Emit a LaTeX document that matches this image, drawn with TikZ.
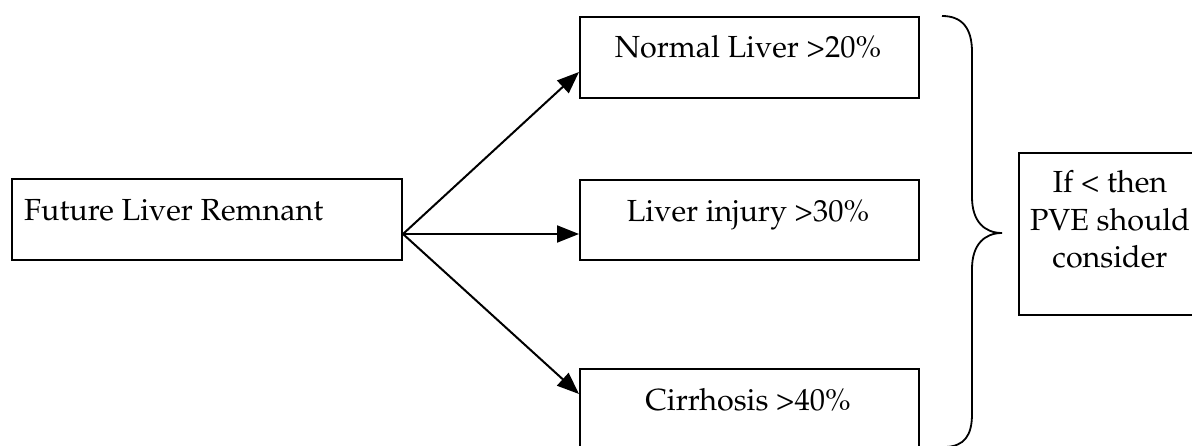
\documentclass[tikz,border=0pt]{standalone}
\usepackage[T1]{fontenc}
\usepackage{mathpazo}
\usetikzlibrary{arrows.meta}
\begin{document}
\begin{tikzpicture}[x=1pt,y=-1pt,
  box/.style={draw,line width=2pt,inner sep=0pt},
  lbl/.style={inner sep=0pt,font=\fontsize{30.5}{37.5}\selectfont},
  arr/.style={line width=2pt,-{Triangle[length=22pt,width=17pt]}}]
\useasboundingbox (0,0) rectangle (1192,446);
\clip (0,0) rectangle (1192,446);
% boxes
\node[box,minimum width=390pt,minimum height=81pt] (flr) at (207,219.5) {};
\node[box,minimum width=339pt,minimum height=81pt] (norm) at (749.5,57.5) {};
\node[box,minimum width=339pt,minimum height=80pt] (inj) at (749.5,220) {};
\node[box,minimum width=339pt,minimum height=100pt] (cir) at (749.5,419) {};
\node[box,minimum width=181pt,minimum height=162pt] (pve) at (1109.5,234) {};
% labels
\node[lbl,anchor=base west] (flrt) at (24,221) {Future Liver Remnant};
\node[lbl,anchor=base] (normt) at (748,58) {Normal Liver >20\%};
\node[lbl,anchor=base] (injt) at (748,222) {Liver injury >30\%};
\node[lbl,anchor=base] (cirt) at (748,410) {Cirrhosis >40\%};
\node[lbl,align=center] (pvet) at (1110,219.5) {If < then\\PVE should\\consider};
% connectors
\coordinate (src) at ([yshift=-14.5pt]flr.east);
\coordinate (tn) at ([yshift=-14.5pt]norm.west);
\coordinate (ti) at ([yshift=-14pt]inj.west);
\coordinate (tc) at ([yshift=-26pt]cir.north west);
\draw[arr] (src) -- (tn);
\draw[arr] (src) -- (ti);
\draw[arr] (src) -- (tc);
% brace
\draw[line width=1.8pt] (942,16) .. controls (962,16) and (972,28) .. (972,52)
  -- (972,197) .. controls (972,222) and (985,233) .. (1002,233)
  .. controls (985,233) and (972,244) .. (972,269)
  -- (972,414) .. controls (972,436) and (964,446) .. (946,447);
\end{tikzpicture}
\end{document}
